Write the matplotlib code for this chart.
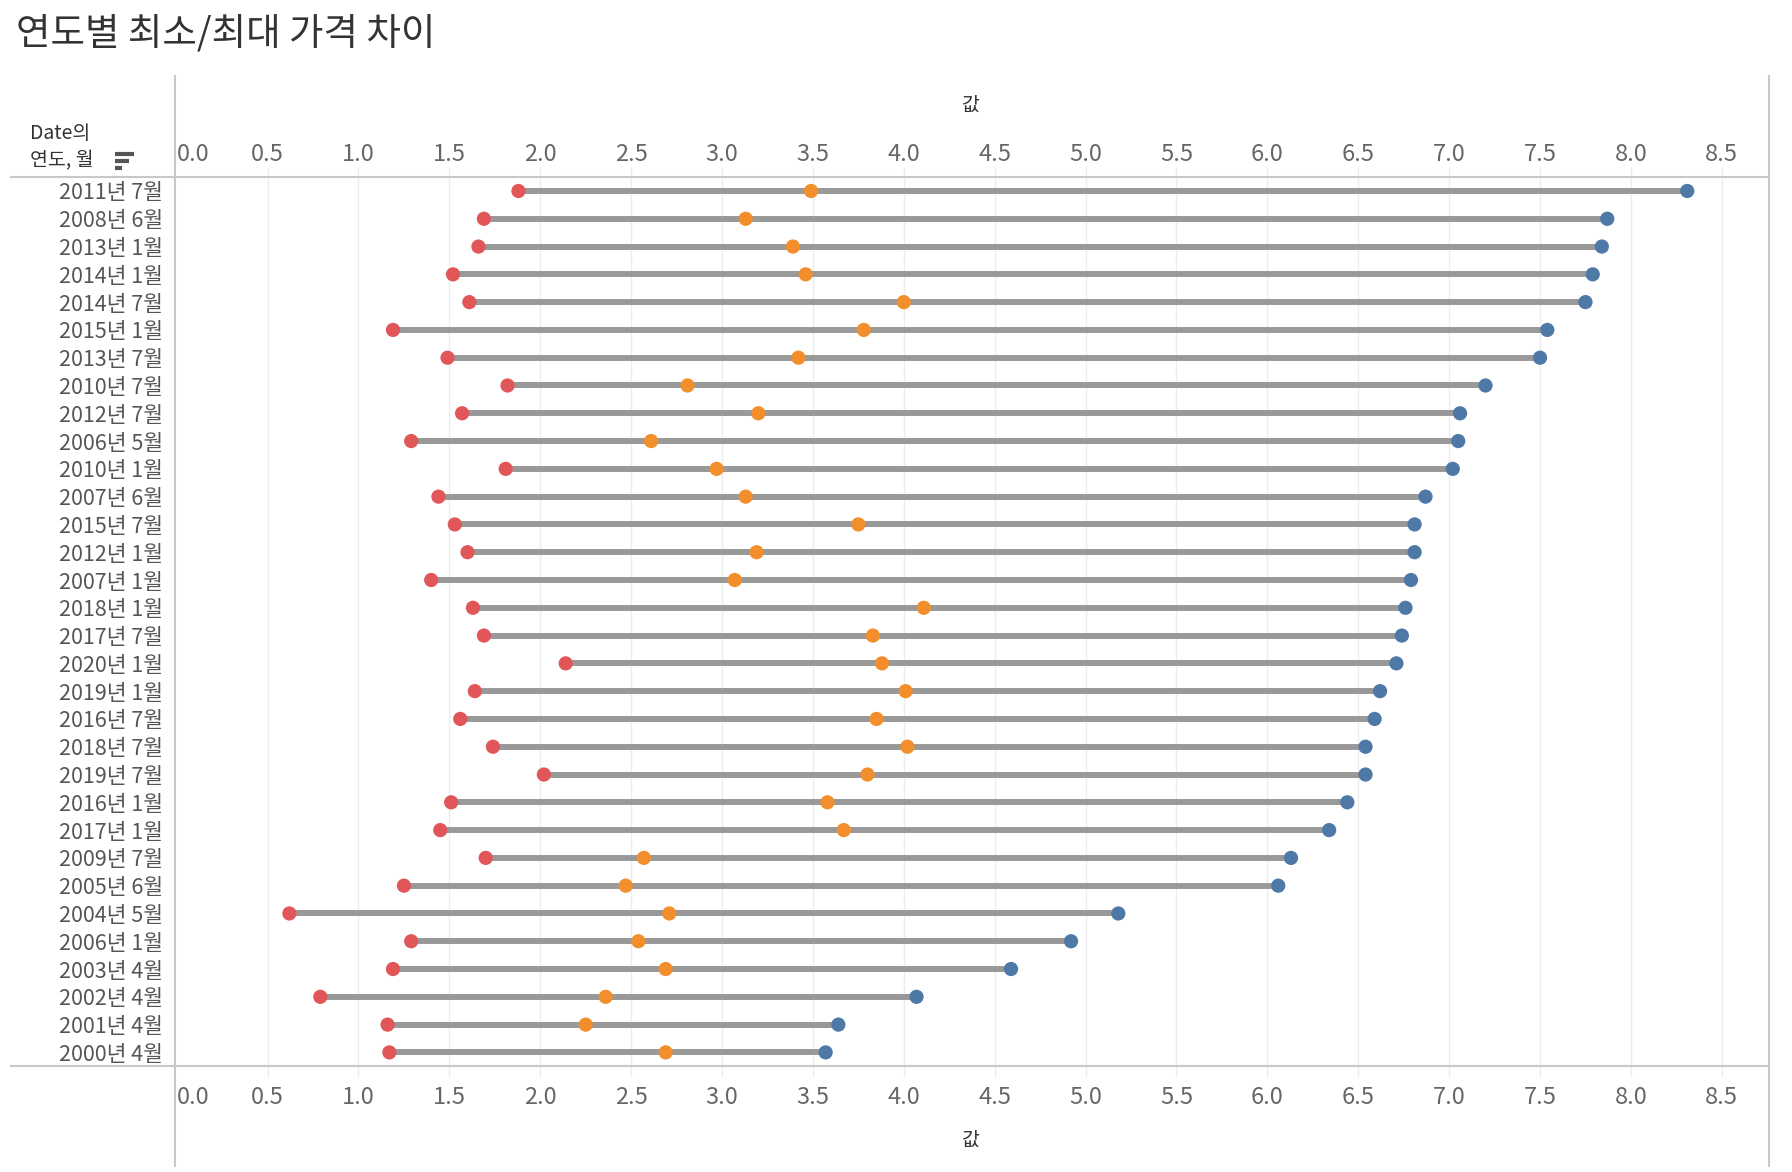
import numpy as np
import matplotlib
matplotlib.use("Agg")
import matplotlib.pyplot as plt
from matplotlib.lines import Line2D

plt.rcParams['font.family'] = ['Noto Sans CJK KR', 'DejaVu Sans']

# 데이터
labels = ['2011년 7월', '2008년 6월', '2013년 1월', '2014년 1월', '2014년 7월', '2015년 1월',
          '2013년 7월', '2010년 7월', '2012년 7월', '2006년 5월', '2010년 1월', '2007년 6월',
          '2015년 7월', '2012년 1월', '2007년 1월', '2018년 1월', '2017년 7월', '2020년 1월',
          '2019년 1월', '2016년 7월', '2018년 7월', '2019년 7월', '2016년 1월', '2017년 1월',
          '2009년 7월', '2005년 6월', '2004년 5월', '2006년 1월', '2003년 4월', '2002년 4월',
          '2001년 4월', '2000년 4월']
min_vals = [1.88, 1.69, 1.66, 1.52, 1.61, 1.19, 1.49, 1.82, 1.57, 1.29, 1.81, 1.44,
            1.53, 1.60, 1.40, 1.63, 1.69, 2.14, 1.64, 1.56, 1.74, 2.02, 1.51, 1.45,
            1.70, 1.25, 0.62, 1.29, 1.19, 0.79, 1.16, 1.17]
mid_vals = [3.49, 3.13, 3.39, 3.46, 4.00, 3.78, 3.42, 2.81, 3.20, 2.61, 2.97, 3.13,
            3.75, 3.19, 3.07, 4.11, 3.83, 3.88, 4.01, 3.85, 4.02, 3.80, 3.58, 3.67,
            2.57, 2.47, 2.71, 2.54, 2.69, 2.36, 2.25, 2.69]
max_vals = [8.31, 7.87, 7.84, 7.79, 7.75, 7.54, 7.50, 7.20, 7.06, 7.05, 7.02, 6.87,
            6.81, 6.81, 6.79, 6.76, 6.74, 6.71, 6.62, 6.59, 6.54, 6.54, 6.44, 6.34,
            6.13, 6.06, 5.18, 4.92, 4.59, 4.07, 3.64, 3.57]
xticks = np.arange(0, 8.51, 0.5)
xticklabels = ['%.1f' % v for v in xticks]

RED = '#e15759'
ORANGE = '#f28e2b'
BLUE = '#4e79a7'
BORDER = '#c8c8c8'

fig = plt.figure(figsize=(17.92, 11.72), dpi=100)
ax = fig.add_axes([0.0986, 0.0902, 0.9872 - 0.0986, 0.8489 - 0.0902])

y = np.arange(len(labels))
ax.hlines(y, min_vals, max_vals, color='#999999', lw=4.3, zorder=2)
ax.scatter(min_vals, y, s=105, color=RED, zorder=3, edgecolors='none')
ax.scatter(mid_vals, y, s=105, color=ORANGE, zorder=3, edgecolors='none')
ax.scatter(max_vals, y, s=105, color=BLUE, zorder=3, edgecolors='none')

n = len(labels)
ax.set_xlim(0, 8.76)
ax.set_ylim(n - 0.5, -0.5)
ax.set_xticks(xticks)
ax.set_xticklabels(xticklabels)
ax.set_yticks(y)
ax.set_yticklabels(labels)
# 격자선 (위/아래로 살짝 튀어나옴)
ax.vlines(xticks[1:], -0.87, n - 0.13, color='#ececec', lw=1, zorder=0, clip_on=False)

ax.tick_params(axis='x', length=0, pad=14, labelsize=17, labelcolor='#666666')
ax.tick_params(axis='y', length=0, pad=10, labelsize=15.5, labelcolor='#555555')
ax.get_xticklabels()[0].set_horizontalalignment('left')

top = ax.secondary_xaxis('top')
top.set_xticks(xticks)
top.set_xticklabels(xticklabels)
top.tick_params(length=0, pad=8, labelsize=17, labelcolor='#666666')
top.get_xticklabels()[0].set_horizontalalignment('left')
for s in top.spines.values():
    s.set_visible(False)

for s in ax.spines.values():
    s.set_visible(False)

# 테두리 선
fig.add_artist(Line2D([0.0976, 0.0976], [0.005, 0.935], color=BORDER, lw=1.5))
fig.add_artist(Line2D([0.9872, 0.9872], [0.005, 0.935], color=BORDER, lw=1.5))
fig.add_artist(Line2D([0.0064, 0.9872], [0.8489, 0.8489], color=BORDER, lw=1.5))
fig.add_artist(Line2D([0.0064, 0.9872], [0.0902, 0.0902], color=BORDER, lw=1.5))

fig.text(0.009, 0.971, '연도별 최소/최대 가격 차이', fontsize=27, color='#333333', va='center')
fig.text(0.542, 0.910, '값', fontsize=14, color='#333333', ha='center', va='center')
fig.text(0.542, 0.027, '값', fontsize=14, color='#333333', ha='center', va='center')
fig.text(0.017, 0.886, 'Date의', fontsize=14, color='#333333', va='center')
fig.text(0.017, 0.8625, '연도, 월', fontsize=14, color='#333333', va='center')
# 정렬 아이콘
for i, w in enumerate([0.011, 0.008, 0.004]):
    yy = 0.8690 - i * 0.0060
    fig.add_artist(Line2D([0.0640, 0.0640 + w], [yy, yy], color='#555555', lw=3,
                          solid_capstyle='butt'))

fig.savefig('out.png', dpi=100)
